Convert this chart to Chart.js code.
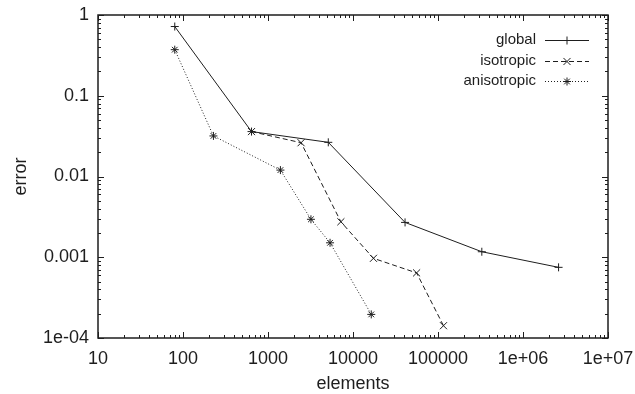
<!DOCTYPE html>
<html>
<head>
<meta charset="utf-8">
<script src="https://cdn.jsdelivr.net/npm/chart.js@4"></script>
<style>
  body { margin: 0; background: #fff; }
  #box { width: 635px; height: 394px; }
</style>
</head>
<body>
<div id="box"><canvas id="errorChart" width="635" height="394"></canvas></div>
<script>
// values
var globalElements = [80, 640, 5120, 40960, 327680, 2621440];
var globalError = [0.72, 0.036, 0.0265, 0.0027, 0.00117, 0.00075];

var isoElements = [640, 2450, 7200, 17400, 56000, 116000];
var isoError = [0.036, 0.0262, 0.00275, 0.00097, 0.00064, 0.000142];

var anisoElements = [80, 228, 1400, 3200, 5370, 16400];
var anisoError = [0.372, 0.0318, 0.012, 0.00295, 0.00151, 0.000196];

var xTickValues = [10, 100, 1000, 10000, 100000, 1e6, 1e7];
var xTickLabels = ['10', '100', '1000', '10000', '100000', '1e+06', '1e+07'];
var yTickValues = [1e-4, 1e-3, 1e-2, 1e-1, 1];
var yTickLabels = ['1e-04', '0.001', '0.01', '0.1', '1'];

var FONT = '"Liberation Sans", Arial, sans-serif';
var INK = '#1e1e1e';

function toPoints(xs, ys) {
  var pts = [];
  for (var i in xs) {
    pts.push({x: xs[i], y: ys[i]});
  }
  return pts;
}

var series = [
  {label: 'global', data: toPoints(globalElements, globalError), dash: [], style: 'cross', radius: 4},
  {label: 'isotropic', data: toPoints(isoElements, isoError), dash: [5, 3], style: 'crossRot', radius: 5},
  {label: 'anisotropic', data: toPoints(anisoElements, anisoError), dash: [1, 2], style: 'star', radius: 4}
];

// gnuplot style frame with inward ticks on all sides
var framePlugin = {
  id: 'frame',
  afterDraw: function(chart) {
    var ctx = chart.ctx;
    var a = chart.chartArea;
    var xs = chart.scales.x, ys = chart.scales.y;
    ctx.save();
    ctx.strokeStyle = INK;
    ctx.lineWidth = 1.5;
    ctx.strokeRect(a.left, a.top, a.right - a.left, a.bottom - a.top);
    ctx.lineWidth = 1;
    ctx.beginPath();
    for (var d = 1; d <= 7; d++) {
      for (var k = 1; k <= 9; k++) {
        var v = k * Math.pow(10, d);
        if (v > 1e7) break;
        var px = Math.round(xs.getPixelForValue(v)) + 0.5;
        var len = (k == 1) ? 6 : 3;
        ctx.moveTo(px, a.bottom); ctx.lineTo(px, a.bottom - len);
        ctx.moveTo(px, a.top); ctx.lineTo(px, a.top + len);
      }
    }
    for (var e = -4; e <= 0; e++) {
      for (var m = 1; m <= 9; m++) {
        var w = m * Math.pow(10, e);
        if (w > 1) break;
        var py = Math.round(ys.getPixelForValue(w)) + 0.5;
        var l2 = (m == 1) ? 6 : 3;
        ctx.moveTo(a.left, py); ctx.lineTo(a.left + l2, py);
        ctx.moveTo(a.right, py); ctx.lineTo(a.right - l2, py);
      }
    }
    ctx.stroke();

    // axis titles
    ctx.fillStyle = INK;
    ctx.font = '18px ' + FONT;
    ctx.textAlign = 'center';
    ctx.textBaseline = 'middle';
    ctx.fillText('elements', (a.left + a.right) / 2, 384);
    ctx.translate(21, (a.top + a.bottom) / 2);
    ctx.rotate(-Math.PI / 2);
    ctx.fillText('error', 0, 0);
    ctx.restore();

    // key, text left of the sample line
    ctx.save();
    ctx.font = '15px ' + FONT;
    ctx.textAlign = 'right';
    ctx.textBaseline = 'middle';
    var rows = [40, 61, 81];
    for (var i = 0; i < series.length; i++) {
      var s = series[i];
      ctx.fillStyle = INK;
      ctx.fillText(s.label, 536, rows[i]);
      ctx.strokeStyle = INK;
      ctx.lineWidth = 1;
      ctx.setLineDash(s.dash);
      ctx.beginPath();
      ctx.moveTo(545, rows[i] + 0.5);
      ctx.lineTo(589, rows[i] + 0.5);
      ctx.stroke();
      ctx.setLineDash([]);
      Chart.helpers.drawPoint(ctx, {pointStyle: s.style, radius: s.radius, rotation: 0, borderWidth: 1}, 567, rows[i] + 0.5);
    }
    ctx.restore();
  }
};

var datasets = series.map(function(s) {
  return {
    label: s.label,
    data: s.data,
    showLine: true,
    fill: false,
    borderColor: INK,
    backgroundColor: INK,
    borderWidth: 1,
    borderDash: s.dash,
    pointStyle: s.style,
    pointRadius: s.radius,
    pointBorderWidth: 1,
    pointBorderColor: INK,
    tension: 0
  };
});

new Chart(document.getElementById('errorChart'), {
  type: 'scatter',
  data: {datasets: datasets},
  options: {
    responsive: false,
    animation: false,
    events: [],
    layout: {padding: {top: 15, right: 27, left: 0, bottom: 0}},
    plugins: {legend: {display: false}, tooltip: {enabled: false}},
    scales: {
      x: {
        type: 'logarithmic',
        min: 10,
        max: 1e7,
        // invisible tick marks push the labels off the axis without adding edge padding
        grid: {display: true, drawOnChartArea: false, drawTicks: true, tickLength: 10, color: 'rgba(0,0,0,0)'},
        border: {display: false},
        afterBuildTicks: function(scale) {
          scale.ticks = xTickValues.map(function(v) { return {value: v}; });
        },
        afterFit: function(scale) { scale.height = 56; },
        ticks: {
          autoSkip: false,
          maxRotation: 0,
          padding: 0,
          color: INK,
          font: {family: FONT, size: 18},
          callback: function(v, i) { return xTickLabels[i]; }
        }
      },
      y: {
        type: 'logarithmic',
        min: 1e-4,
        max: 1,
        grid: {display: true, drawOnChartArea: false, drawTicks: true, tickLength: 9, color: 'rgba(0,0,0,0)'},
        border: {display: false},
        afterBuildTicks: function(scale) {
          scale.ticks = yTickValues.map(function(v) { return {value: v}; });
        },
        afterFit: function(scale) { scale.width = 98; },
        ticks: {
          autoSkip: false,
          padding: 0,
          color: INK,
          font: {family: FONT, size: 18},
          callback: function(v, i) { return yTickLabels[i]; }
        }
      }
    }
  },
  plugins: [framePlugin]
});
</script>
</body>
</html>
